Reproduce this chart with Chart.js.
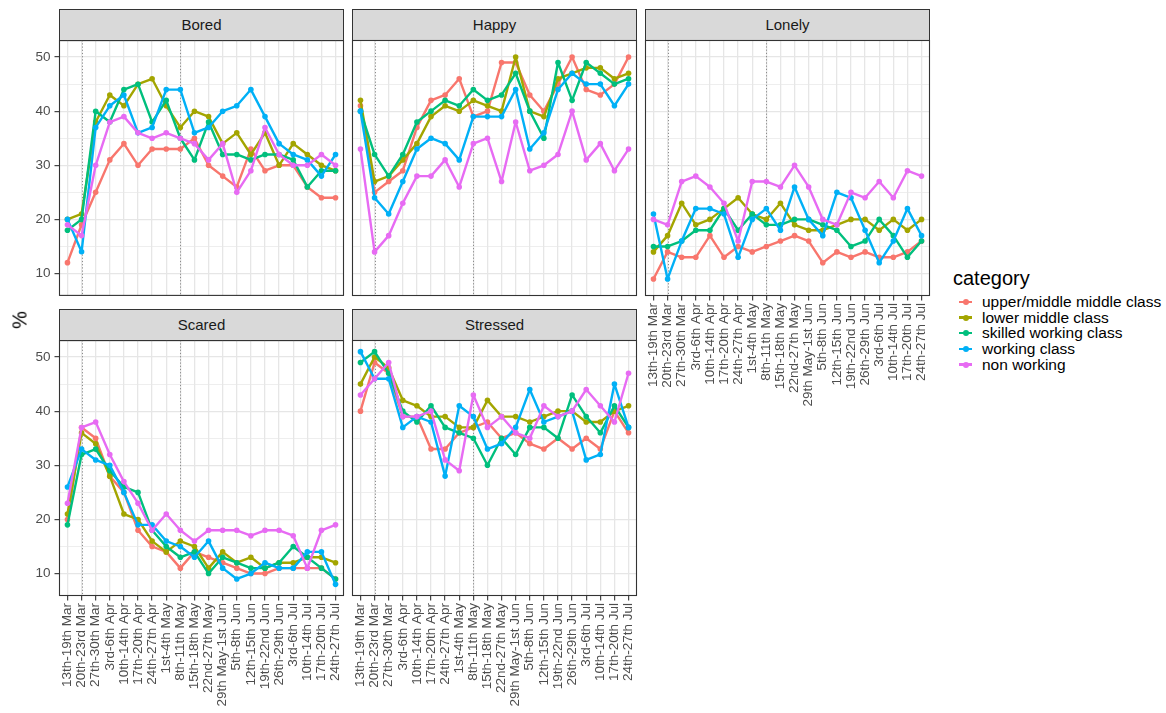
<!DOCTYPE html>
<html>
<head>
<meta charset="utf-8">
<title>Feelings by social grade</title>
<script src="https://cdn.jsdelivr.net/npm/chart.js@4.4.0/dist/chart.umd.min.js"></script>
<style>
  html, body { margin: 0; padding: 0; background: #ffffff; }
  #fig { position: relative; width: 1166px; height: 713px; overflow: hidden;
         font-family: "Liberation Sans", Arial, Helvetica, sans-serif; }
  .strip { position: absolute; box-sizing: border-box; background: #D9D9D9;
           border: 1.1px solid #333333; color: #1A1A1A; font-size: 15px;
           text-align: center; white-space: nowrap; }
  .ytitle { position: absolute; font-size: 20px; color: #000; transform: translate(-50%, -50%) rotate(-90deg); }
  .legend { position: absolute; left: 953px; top: 266px; color: #000; }
  .legend .title { font-size: 20px; line-height: 24px; margin-bottom: 4px; }
  .legend .item { position: relative; height: 15.7px; line-height: 15.7px; font-size: 15.5px; padding-left: 29px; white-space: nowrap; }
  .legend .key { position: absolute; left: 6px; top: 50%; width: 13px; height: 2.4px; margin-top: -1.2px; }
  .legend .dot { position: absolute; left: 9.5px; top: 50%; width: 6px; height: 6px; margin-top: -3px; border-radius: 50%; }
</style>
</head>
<body>
<div id="fig"></div>
<script>
// Survey waves (x axis)
const categories = [
  "13th-19th Mar", "20th-23rd Mar", "27th-30th Mar", "3rd-6th Apr", "10th-14th Apr",
  "17th-20th Apr", "24th-27th Apr", "1st-4th May", "8th-11th May", "15th-18th May",
  "22nd-27th May", "29th May-1st Jun", "5th-8th Jun", "12th-15th Jun", "19th-22nd Jun",
  "26th-29th Jun", "3rd-6th Jul", "10th-14th Jul", "17th-20th Jul", "24th-27th Jul"
];
// Waves marked with a dotted reference line
const markedWaves = ["20th-23rd Mar", "8th-11th May"];

const classes = ["upper/middle middle class", "lower middle class", "skilled working class", "working class", "non working"];
const classColours = ["#F8766D", "#A3A500", "#00BF7D", "#00B0F6", "#E76BF3"];

// Bored (%)
const boredUpperMiddle = [12, 19, 25, 31, 34, 30, 33, 33, 33, 35, 30, 28, 26, 33, 29, 30, 30, 26, 24, 24];
const boredLowerMiddle = [20, 21, 38, 43, 41, 45, 46, 41, 37, 40, 39, 34, 36, 32, 36, 30, 34, 32, 30, 29];
const boredSkilled     = [18, 20, 40, 38, 44, 45, 38, 42, 35, 31, 38, 32, 32, 31, 32, 32, 31, 26, 29, 29];
const boredWorking     = [20, 14, 37, 41, 43, 36, 37, 44, 44, 36, 37, 40, 41, 44, 39, 34, 32, 31, 28, 32];
const boredNonWorking  = [19, 17, 30, 38, 39, 36, 35, 36, 35, 34, 31, 34, 25, 29, 37, 32, 30, 30, 32, 30];

// Happy (%)
const happyUpperMiddle = [41, 25, 27, 29, 37, 42, 43, 46, 39, 40, 49, 49, 43, 40, 45, 50, 44, 43, 45, 50];
const happyLowerMiddle = [42, 27, 28, 31, 34, 39, 41, 40, 42, 41, 40, 50, 40, 39, 46, 47, 48, 48, 46, 47];
const happySkilled     = [40, 32, 28, 32, 38, 40, 42, 41, 44, 42, 43, 47, 40, 35, 49, 42, 49, 47, 45, 46];
const happyWorking     = [40, 24, 21, 27, 33, 35, 34, 31, 39, 39, 39, 44, 33, 36, 44, 47, 45, 45, 41, 45];
const happyNonWorking  = [33, 14, 17, 23, 28, 28, 31, 26, 34, 35, 27, 38, 29, 30, 32, 40, 31, 34, 29, 33];

// Lonely (%)
const lonelyUpperMiddle = [9, 14, 13, 13, 17, 13, 15, 14, 15, 16, 17, 16, 12, 14, 13, 14, 13, 13, 14, 16];
const lonelyLowerMiddle = [14, 17, 23, 19, 20, 22, 24, 21, 20, 23, 19, 18, 18, 19, 20, 20, 18, 20, 18, 20];
const lonelySkilled     = [15, 15, 16, 18, 18, 22, 18, 21, 19, 19, 20, 20, 19, 18, 15, 16, 20, 17, 13, 16];
const lonelyWorking     = [21, 9, 16, 22, 22, 21, 13, 20, 22, 18, 26, 20, 17, 25, 24, 18, 12, 16, 22, 17];
const lonelyNonWorking  = [20, 19, 27, 28, 26, 23, 16, 27, 27, 26, 30, 26, 20, 19, 25, 24, 27, 24, 29, 28];

// Scared (%)
const scaredUpperMiddle = [20, 37, 35, 28, 25, 18, 15, 14, 11, 14, 13, 12, 11, 10, 10, 11, 11, 11, 11, 9];
const scaredLowerMiddle = [21, 36, 34, 28, 21, 20, 16, 14, 16, 15, 11, 14, 12, 13, 11, 12, 12, 13, 13, 12];
const scaredSkilled     = [19, 32, 33, 29, 26, 25, 18, 15, 13, 14, 10, 13, 12, 11, 11, 12, 15, 13, 11, 9];
const scaredWorking     = [26, 33, 31, 30, 25, 19, 19, 16, 15, 13, 16, 11, 9, 10, 12, 11, 11, 14, 14, 8];
const scaredNonWorking  = [23, 37, 38, 32, 27, 23, 18, 21, 18, 16, 18, 18, 18, 17, 18, 18, 17, 11, 18, 19];

// Stressed (%)
const stressedUpperMiddle = [40, 49, 47, 39, 39, 33, 33, 36, 37, 38, 35, 36, 34, 33, 35, 33, 35, 33, 40, 36];
const stressedLowerMiddle = [45, 50, 48, 42, 41, 39, 39, 37, 37, 42, 39, 39, 38, 39, 40, 40, 38, 38, 40, 41];
const stressedSkilled     = [49, 51, 47, 40, 38, 41, 37, 36, 35, 30, 35, 32, 37, 37, 35, 43, 39, 36, 41, 37];
const stressedWorking     = [51, 46, 46, 37, 39, 38, 28, 41, 39, 33, 34, 37, 44, 38, 39, 40, 31, 32, 45, 37];
const stressedNonWorking  = [43, 46, 49, 39, 39, 40, 31, 29, 43, 37, 39, 36, 35, 41, 39, 40, 44, 41, 38, 47];

const panels = [
  { name: "Bored",    col: 0, row: 0, yAxis: true,  xAxis: false,
    series: [boredUpperMiddle, boredLowerMiddle, boredSkilled, boredWorking, boredNonWorking] },
  { name: "Happy",    col: 1, row: 0, yAxis: false, xAxis: false,
    series: [happyUpperMiddle, happyLowerMiddle, happySkilled, happyWorking, happyNonWorking] },
  { name: "Lonely",   col: 2, row: 0, yAxis: false, xAxis: true,
    series: [lonelyUpperMiddle, lonelyLowerMiddle, lonelySkilled, lonelyWorking, lonelyNonWorking] },
  { name: "Scared",   col: 0, row: 1, yAxis: true,  xAxis: true,
    series: [scaredUpperMiddle, scaredLowerMiddle, scaredSkilled, scaredWorking, scaredNonWorking] },
  { name: "Stressed", col: 1, row: 1, yAxis: false, xAxis: true,
    series: [stressedUpperMiddle, stressedLowerMiddle, stressedSkilled, stressedWorking, stressedNonWorking] }
];

// Facet grid geometry
const colLeft = [59, 352, 645];
const rowTop = [40, 340];
const panelW = 285, panelH = 256, stripH = 31.5;
const PAD = 12;          // room around each plot area for label overhang
const xAxisSpace = 117;

// Shared y range with a 5% expansion on each side
const allValues = panels.flatMap(p => p.series.flat());
const lo = Math.min(...allValues), hi = Math.max(...allValues);
const yMin = lo - (hi - lo) * 0.05, yMax = hi + (hi - lo) * 0.05;
const yTicks = [];
for (let v = Math.ceil(yMin / 5) * 5; v <= yMax; v += 5) yTicks.push(v);

const gridColour = "#E6E6E6";
const isMajor = v => v % 10 === 0;

Chart.defaults.font.family = '"Liberation Sans", Arial, Helvetica, sans-serif';

// Panel decorations: dotted reference lines under the data, border on top
const panelDecor = {
  id: "panelDecor",
  beforeDatasetsDraw(chart) {
    const { ctx, chartArea: a, scales } = chart;
    ctx.save();
    ctx.strokeStyle = "#808080";
    ctx.lineWidth = 0.9;
    ctx.setLineDash([1.2, 2]);
    markedWaves.forEach(w => {
      const x = Math.round(scales.x.getPixelForValue(categories.indexOf(w))) + 0.5;
      ctx.beginPath();
      ctx.moveTo(x, a.top);
      ctx.lineTo(x, a.bottom);
      ctx.stroke();
    });
    ctx.restore();
  },
  afterDraw(chart) {
    const { ctx, chartArea: a } = chart;
    ctx.save();
    ctx.strokeStyle = "#333333";
    ctx.lineWidth = 1.1;
    ctx.strokeRect(a.left + 0.5, a.top + 0.5, a.right - a.left - 1, a.bottom - a.top - 1);
    ctx.restore();
  }
};

const fig = document.getElementById("fig");

panels.forEach(p => {
  const left = colLeft[p.col], top = rowTop[p.row];
  const leftSpace = p.yAxis ? left : PAD;
  const bottomSpace = p.xAxis ? xAxisSpace : PAD;
  const w = leftSpace + panelW + PAD, h = PAD + panelH + bottomSpace;

  const strip = document.createElement("div");
  strip.className = "strip";
  strip.style.left = left + "px";
  strip.style.top = (top - stripH) + "px";
  strip.style.width = panelW + "px";
  strip.style.height = (stripH + 1) + "px";
  strip.style.lineHeight = (stripH - 1) + "px";
  strip.textContent = p.name;
  fig.appendChild(strip);

  const canvas = document.createElement("canvas");
  canvas.width = w; canvas.height = h;
  canvas.style.cssText = `position:absolute;left:${left - leftSpace}px;top:${top - PAD}px;width:${w}px;height:${h}px;`;
  fig.appendChild(canvas);

  new Chart(canvas, {
    type: "line",
    data: {
      datasets: p.series.map((vals, k) => ({
        label: classes[k],
        data: vals.map((v, i) => ({ x: i, y: v })),
        borderColor: classColours[k],
        backgroundColor: classColours[k],
        pointBackgroundColor: classColours[k],
        borderWidth: 2.4,
        borderJoinStyle: "round",
        pointRadius: 2.8,
        pointHoverRadius: 2.8,
        pointBorderWidth: 0,
        tension: 0,
        fill: false,
        order: classes.length - 1 - k
      }))
    },
    options: {
      responsive: false,
      animation: false,
      events: [],
      layout: { padding: { left: 0, right: PAD, top: PAD, bottom: 0 } },
      plugins: { legend: { display: false }, tooltip: { enabled: false }, title: { display: false } },
      scales: {
        x: {
          type: "linear",
          min: -0.6,
          max: categories.length - 1 + 0.6,
          afterBuildTicks: s => { s.ticks = categories.map((_, i) => ({ value: i })); },
          afterFit: s => { s.height = bottomSpace; },
          border: { display: false },
          grid: { color: gridColour, lineWidth: 1.3, drawTicks: p.xAxis, tickLength: 4.5,
                  tickColor: "#333333", tickWidth: 1.1 },
          ticks: { display: p.xAxis, autoSkip: false, minRotation: 90, maxRotation: 90, padding: 2.5,
                   color: "#4D4D4D", font: { size: 13.5 }, callback: v => categories[v] }
        },
        y: {
          type: "linear",
          min: yMin,
          max: yMax,
          afterBuildTicks: s => { s.ticks = yTicks.map(v => ({ value: v })); },
          afterFit: s => { s.width = leftSpace; },
          border: { display: false },
          grid: {
            color: gridColour,
            lineWidth: c => (c.tick && isMajor(c.tick.value)) ? 1.3 : 0.7,
            drawTicks: p.yAxis,
            tickLength: 4.5,
            tickWidth: 1.1,
            tickColor: c => (c.tick && isMajor(c.tick.value)) ? "#333333" : "rgba(0,0,0,0)"
          },
          ticks: { display: p.yAxis, padding: 4, color: "#4D4D4D", font: { size: 13.5 },
                   callback: v => isMajor(v) ? String(v) : "" }
        }
      }
    },
    plugins: [panelDecor]
  });
});

// y axis title
const yt = document.createElement("div");
yt.className = "ytitle";
yt.style.left = "20px";
yt.style.top = "320px";
yt.textContent = "%";
fig.appendChild(yt);

// legend
const legend = document.createElement("div");
legend.className = "legend";
const lt = document.createElement("div");
lt.className = "title";
lt.textContent = "category";
legend.appendChild(lt);
classes.forEach((c, k) => {
  const item = document.createElement("div");
  item.className = "item";
  const key = document.createElement("span");
  key.className = "key";
  key.style.background = classColours[k];
  const dot = document.createElement("span");
  dot.className = "dot";
  dot.style.background = classColours[k];
  item.appendChild(key);
  item.appendChild(dot);
  item.appendChild(document.createTextNode(c));
  legend.appendChild(item);
});
fig.appendChild(legend);
</script>
</body>
</html>
